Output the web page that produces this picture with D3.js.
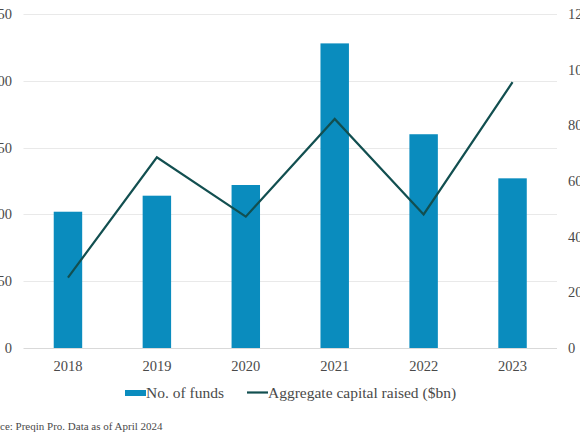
<!DOCTYPE html>
<meta charset="utf-8">
<style>
  body { margin: 0; background: #fff; }
  text { font-family: Georgia, "Liberation Serif", "DejaVu Serif", serif; fill: #4a4a4a; }
</style>
<div id="chart"></div>
<script src="https://cdn.jsdelivr.net/npm/d3@7"></script>
<script>

var years = ["2018", "2019", "2020", "2021", "2022", "2023"];
var funds = [102, 114, 122, 228, 160, 127];
var capital = [25.3, 68.5, 47.2, 82.3, 48.0, 95.5];
var leftTicks = [0, 50, 100, 150, 200, 250];
var rightTicks = [0, 20, 40, 60, 80, 100, 120];
var legendLabels = ["No. of funds", "Aggregate capital raised ($bn)"];
var source = "Source: Preqin Pro. Data as of April 2024";

var width = 580, height = 435;
var plot = {left: 23.5, right: 557, top: 14, bottom: 348};

var svg = d3.select("#chart")
  .append("svg")
    .attr("width", width)
    .attr("height", height);

var x = d3.scaleBand()
  .domain(years)
  .range([plot.left, plot.right])
  .paddingInner(0.68)
  .paddingOuter(0.34);

var yL = d3.scaleLinear().domain([0, 250]).range([plot.bottom, plot.top]);
var yR = d3.scaleLinear().domain([0, 120]).range([plot.bottom, plot.top]);

// gridlines
svg.append("g")
  .selectAll("line")
  .data(leftTicks)
  .enter()
  .append("line")
    .attr("x1", plot.left)
    .attr("x2", plot.right)
    .attr("y1", function(d) { return Math.round(yL(d)) + 0.5; })
    .attr("y2", function(d) { return Math.round(yL(d)) + 0.5; })
    .attr("stroke", function(d) { return d == 0 ? "#d9d9d9" : "#e9e9e9"; })
    .attr("stroke-width", 1);

// left axis labels
svg.append("g")
  .selectAll("text")
  .data(leftTicks)
  .enter()
  .append("text")
    .attr("x", 12)
    .attr("y", function(d) { return yL(d) + 5; })
    .attr("text-anchor", "end")
    .style("font-size", "14.5px")
    .text(function(d) { return d; });

// right axis labels
svg.append("g")
  .selectAll("text")
  .data(rightTicks)
  .enter()
  .append("text")
    .attr("x", 568)
    .attr("y", function(d) { return yR(d) + 5; })
    .attr("text-anchor", "start")
    .style("font-size", "14.5px")
    .text(function(d) { return d; });

// bars
svg.append("g")
  .selectAll("rect")
  .data(years)
  .enter()
  .append("rect")
    .attr("x", function(d) { return x(d); })
    .attr("width", x.bandwidth())
    .attr("y", function(d, i) { return yL(funds[i]); })
    .attr("height", function(d, i) { return yL(0) - yL(funds[i]); })
    .attr("fill", "#0A8CBE");

// line
var line = d3.line()
  .x(function(d, i) { return x(years[i]) + x.bandwidth() / 2; })
  .y(function(d) { return yR(d); });

svg.append("path")
  .datum(capital)
  .attr("d", line)
  .attr("fill", "none")
  .attr("stroke", "#124F50")
  .attr("stroke-width", 2.2)
  .attr("stroke-linejoin", "miter");

// year labels
svg.append("g")
  .selectAll("text")
  .data(years)
  .enter()
  .append("text")
    .attr("x", function(d) { return x(d) + x.bandwidth() / 2; })
    .attr("y", 371)
    .attr("text-anchor", "middle")
    .style("font-size", "14.5px")
    .text(function(d) { return d; });

// legend
var legend = svg.append("g");
legend.append("rect")
  .attr("x", 125).attr("y", 390)
  .attr("width", 21).attr("height", 6)
  .attr("fill", "#0A8CBE");
legend.append("text")
  .attr("x", 146).attr("y", 397.5)
  .style("font-size", "15.5px")
  .text(legendLabels[0]);
legend.append("line")
  .attr("x1", 247).attr("x2", 268)
  .attr("y1", 392.5).attr("y2", 392.5)
  .attr("stroke", "#124F50")
  .attr("stroke-width", 2.2);
legend.append("text")
  .attr("x", 268).attr("y", 397.5)
  .style("font-size", "15.5px")
  .text(legendLabels[1]);

// source note, shifted so the start is cut off like the original
var src = svg.append("text")
  .attr("y", 430)
  .style("font-size", "11px")
  .text(source);
var cut = svg.append("text")
  .style("font-size", "11px")
  .text("Sour");
var cutW = cut.node().getComputedTextLength();
cut.remove();
src.attr("x", -cutW);

</script>
